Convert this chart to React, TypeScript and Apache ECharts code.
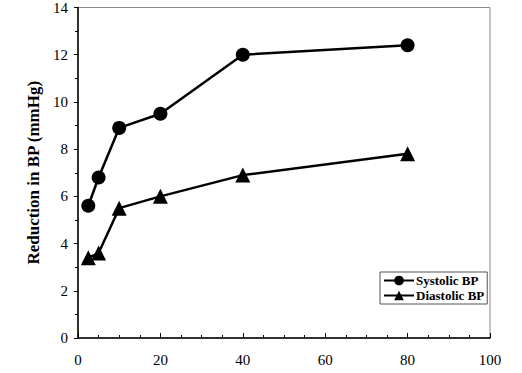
import React, { useEffect, useRef } from "react";
import * as echarts from "echarts";

const doses = [2.5, 5, 10, 20, 40, 80];
const systolic = [5.6, 6.8, 8.9, 9.5, 12.0, 12.4];
const diastolic = [3.4, 3.6, 5.5, 6.0, 6.9, 7.8];
const xTicks = [0, 20, 40, 60, 80, 100];
const yTicks = [0, 2, 4, 6, 8, 10, 12, 14];

const FONT = "Liberation Serif";

export default function App() {
  const ref = useRef<HTMLDivElement>(null);
  useEffect(() => {
    document.body.style.margin = "0";
    const chart = echarts.init(ref.current!, null, { renderer: "svg" });
    chart.setOption({
      animation: false,
      backgroundColor: "#fff",
      grid: { left: 78, right: 32, top: 5, bottom: 35, show: true, borderColor: "#888", borderWidth: 1 },
      legend: {
        left: 380,
        top: 272,
        orient: "vertical",
        borderColor: "#555",
        borderWidth: 1,
        padding: [2, 3, 2, 3],
        itemGap: 2,
        itemWidth: 30,
        itemHeight: 12,
        textStyle: { fontFamily: FONT, fontWeight: "bold", fontSize: 13, color: "#000", padding: [0, 0, 0, -3] },
        data: ["Systolic BP", "Diastolic BP"],
      },
      xAxis: {
        type: "value",
        min: xTicks[0],
        max: xTicks[xTicks.length - 1],
        interval: 20,
        axisLine: { lineStyle: { color: "#000", width: 1.5 } },
        axisTick: { inside: true, length: 5, lineStyle: { color: "#000" } },
        minorTick: { show: true, splitNumber: 4, length: 3, lineStyle: { color: "#000" } },
        splitLine: { show: false },
        axisLabel: { fontFamily: FONT, fontSize: 15, color: "#000", margin: 14 },
      },
      yAxis: {
        type: "value",
        min: yTicks[0],
        max: yTicks[yTicks.length - 1],
        interval: 2,
        name: "Reduction in BP (mmHg)",
        nameLocation: "middle",
        nameGap: 36,
        nameTextStyle: { fontFamily: FONT, fontWeight: "bold", fontSize: 17, color: "#000" },
        axisLine: { show: true, lineStyle: { color: "#000", width: 1.5 } },
        axisTick: { show: true, inside: false, length: 4, lineStyle: { color: "#000" } },
        minorTick: { show: true, splitNumber: 2, length: 3, lineStyle: { color: "#000" } },
        splitLine: { show: false },
        axisLabel: { fontFamily: FONT, fontSize: 15, color: "#000", margin: 10 },
      },
      series: [
        {
          name: "Systolic BP",
          type: "line",
          data: doses.map((d, i) => [d, systolic[i]]),
          symbol: "circle",
          symbolSize: 14,
          itemStyle: { color: "#000" },
          lineStyle: { color: "#000", width: 2.5 },
        },
        {
          name: "Diastolic BP",
          type: "line",
          data: doses.map((d, i) => [d, diastolic[i]]),
          symbol: "triangle",
          symbolSize: 15,
          itemStyle: { color: "#000" },
          lineStyle: { color: "#000", width: 2.5 },
        },
      ],
    });
    return () => chart.dispose();
  }, []);
  return <div ref={ref} style={{ width: 522, height: 373 }} />;
}
